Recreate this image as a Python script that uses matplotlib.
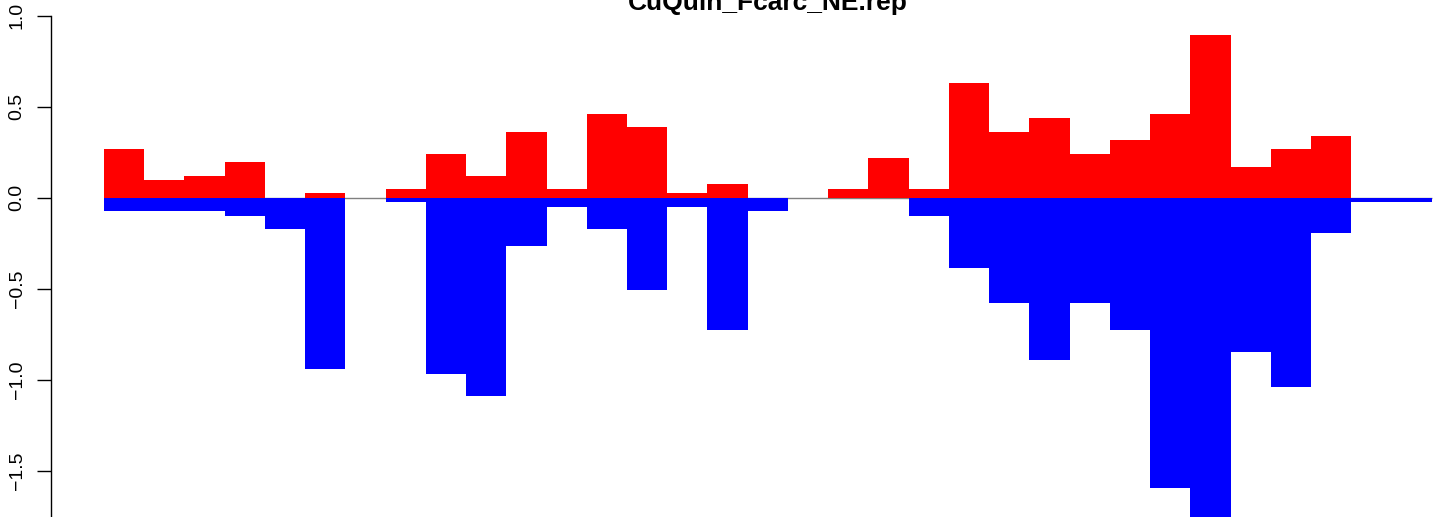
import numpy as np
import matplotlib
matplotlib.use("Agg")
import matplotlib.pyplot as plt

plt.rcParams['font.family'] = ['Liberation Sans', 'DejaVu Sans']

title = "CuQuin_Fcarc_NE.rep"

# values per bar (33 bars, no spacing)
pos_vals = [0.268, 0.097, 0.119, 0.196, 0.0, 0.027, 0.0, 0.049, 0.240, 0.119,
            0.361, 0.049, 0.460, 0.388, 0.027, 0.075, 0.0, 0.0, 0.049, 0.218,
            0.049, 0.630, 0.361, 0.438, 0.240, 0.317, 0.460, 0.894, 0.169, 0.268,
            0.339, 0.0, 0.0]
neg_vals = [-0.071, -0.071, -0.071, -0.099, -0.170, -0.940, 0.0, -0.022, -0.967, -1.088,
            -0.265, -0.049, -0.170, -0.507, -0.049, -0.727, -0.071, 0.0, 0.0, 0.0,
            -0.099, -0.386, -0.579, -0.892, -0.579, -0.727, -1.595, -1.80, -0.848, -1.040,
            -0.194, -0.024, -0.024]
yticks = [-1.5, -1.0, -0.5, 0.0, 0.5, 1.0]

W, H = 1444, 517
fig = plt.figure(figsize=(W / 100, H / 100), dpi=100)

n = len(pos_vals)
pad = n * 0.04
# plot region in pixels: x 50.7 .. 1485 (runs past right edge), full height
ax_left, ax_right = 50.7, 1485.0
ax = fig.add_axes([ax_left / W, 0, (ax_right - ax_left) / W, 1])
ax.set_xlim(-pad, n + pad)
ax.set_ylim(-1.754, 1.086)

x = np.arange(n)
ax.hlines(0, 0, n, color='gray', lw=1, zorder=1)
ax.bar(x, pos_vals, width=1.0, align='edge', color='red', lw=0, zorder=2)
ax.bar(x, neg_vals, width=1.0, align='edge', color='blue', lw=0, zorder=2)

for s in ['top', 'right', 'bottom']:
    ax.spines[s].set_visible(False)
ax.spines['left'].set_linewidth(1.0)
ax.spines['left'].set_bounds(-1.754, 1.0)
ax.set_xticks([])
ax.set_yticks(yticks)
ax.set_yticklabels([("\u2212" if v < 0 else "") + "%.1f" % abs(v) for v in yticks],
                   rotation=90, va='center', fontsize=14)
ax.tick_params(axis='y', length=10, width=1.0, pad=8)

fig.text(768 / W, 1 - 10 / H, title, ha='center', va='baseline',
         fontsize=19, fontweight='bold')

fig.savefig("out.png", dpi=100)
